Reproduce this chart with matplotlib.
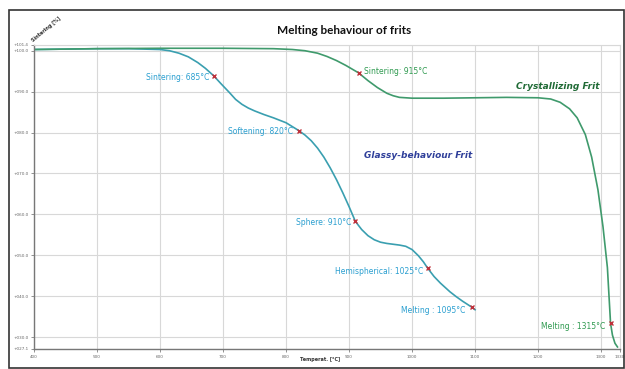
import matplotlib.pyplot as plt
import matplotlib.patches as mpatches
import numpy as np

# glassy-behaviour frit (temperature, %)
glassy_t = [400, 450, 500, 550, 600, 615, 630, 645, 660, 672, 685, 697, 710, 720, 730, 740, 750,
            765, 780, 800, 820, 830, 840, 850, 860, 870, 880, 890, 900, 910, 920, 930, 940, 950,
            960, 970, 980, 990, 1000, 1010, 1018, 1025, 1035, 1045, 1060, 1070, 1080, 1095, 1100]
glassy_v = [100.3, 100.4, 100.5, 100.5, 100.3, 100.0, 99.4, 98.5, 97.1, 95.7, 93.9, 91.9, 89.8,
            88.1, 86.9, 86.0, 85.3, 84.4, 83.6, 82.4, 80.5, 79.4, 78.0, 76.2, 74.0, 71.4, 68.5,
            65.3, 61.9, 58.3, 56.3, 54.8, 53.8, 53.2, 52.9, 52.7, 52.5, 52.2, 51.4, 49.9, 48.4,
            46.8, 44.8, 43.2, 41.1, 39.9, 38.8, 37.3, 36.7]

# crystallizing frit
cryst_t = [400, 500, 600, 700, 780, 810, 830, 850, 865, 880, 895, 915, 930, 945, 960, 970, 980,
           1000, 1050, 1100, 1150, 1200, 1220, 1235, 1250, 1262, 1275, 1285, 1295, 1303, 1310,
           1315, 1318, 1322, 1326]
cryst_v = [100.3, 100.5, 100.6, 100.6, 100.5, 100.3, 100.0, 99.4, 98.6, 97.6, 96.4, 94.6, 92.7,
           91.0, 89.6, 89.0, 88.6, 88.4, 88.4, 88.5, 88.6, 88.5, 88.2, 87.4, 85.8, 83.6, 79.5,
           74.0, 66.0, 57.0, 47.0, 33.4, 30.5, 28.5, 27.6]

glassy_pts_t = [685, 820, 910, 1025, 1095]
glassy_pts_v = [93.9, 80.5, 58.3, 46.8, 37.3]
glassy_labels = ["Sintering: 685°C", "Softening: 820°C", "Sphere: 910°C",
                 "Hemispherical: 1025°C", "Melting : 1095°C"]

cryst_pts_t = [915, 1315]
cryst_pts_v = [94.6, 33.4]
cryst_labels = ["Sintering: 915°C", "Melting : 1315°C"]

x_min, x_max = 400, 1330
y_min, y_max = 27.1, 101.4
x_ticks = [400, 500, 600, 700, 800, 900, 1000, 1100, 1200, 1300, 1330]
y_ticks = [27.1, 30, 40, 50, 60, 70, 80, 90, 100, 101.4]

fig = plt.figure(figsize=(6.25, 3.69), dpi=100)
ax = fig.add_axes([34 / 625, 20 / 369, 586 / 625, 304 / 369])

# outer frame
fig.patches.append(mpatches.Rectangle((9 / 625, 1 / 369), 615 / 625, 358 / 369,
                                      transform=fig.transFigure, fill=False,
                                      edgecolor="#333333", linewidth=1.2))

ax.plot(glassy_t, glassy_v, color="#3a9fb0", linewidth=1.2, solid_joinstyle="round")
ax.plot(cryst_t, cryst_v, color="#3f9a6c", linewidth=1.2, solid_joinstyle="round")
ax.plot(glassy_pts_t, glassy_pts_v, "x", color="#c0303a", markersize=3, mew=1)
ax.plot(cryst_pts_t, cryst_pts_v, "x", color="#c0303a", markersize=3, mew=1)

glassy_offsets = [(-3, -1), (-4, -1), (-3, -1), (-3, -2), (-5, -2)]
for t, v, lab, off in zip(glassy_pts_t, glassy_pts_v, glassy_labels, glassy_offsets):
    ax.annotate(lab, (t, v), xytext=off, textcoords="offset points",
                ha="right", va="center", fontsize=5.5, color="#2a9fd0")

cryst_offsets = [(4, 1), (-4, -2)]
cryst_ha = ["left", "right"]
for t, v, lab, off, ha in zip(cryst_pts_t, cryst_pts_v, cryst_labels, cryst_offsets, cryst_ha):
    ax.annotate(lab, (t, v), xytext=off, textcoords="offset points",
                ha=ha, va="center", fontsize=5.5, color="#2f9a50")

ax.text(1010, 74.3, "Glassy-behaviour Frit", fontsize=6.5, fontweight="bold",
        fontstyle="italic", color="#2f3f9a", ha="center", va="center")
ax.text(1232, 91.2, "Crystallizing Frit", fontsize=6.5, fontweight="bold",
        fontstyle="italic", color="#1f6a35", ha="center", va="center")

ax.set_xlim(x_min, x_max)
ax.set_ylim(y_min, y_max)
ax.set_xticks(x_ticks)
ax.set_xticklabels([str(t) for t in x_ticks])
ax.set_yticks(y_ticks)
ax.set_yticklabels(["+%05.1f" % v for v in y_ticks])
ax.tick_params(labelsize=3, colors="#666666", length=2, width=0.5, pad=2)
ax.grid(color="#d8d8d8", linewidth=0.8)

for side in ["left", "bottom"]:
    ax.spines[side].set_color("#777777")
    ax.spines[side].set_linewidth(1.0)
for side in ["top", "right"]:
    ax.spines[side].set_color("#d8d8d8")

fig.text(344 / 625, 1 - 30 / 369, "Melting behaviour of frits", fontsize=8.5,
         fontweight="bold", family="Lato", ha="center", va="center", color="#111111")
fig.text(46 / 625, 1 - 29 / 369, "Sintering [%]", fontsize=3.5, fontweight="bold",
         rotation=40, ha="center", va="center", color="#333333")
fig.text(300 / 625, 1 - 359 / 369, "Temperat. [°C]", fontsize=3.5, fontweight="bold",
         ha="left", va="center", color="#333333")

fig.savefig("out.png", dpi=100)
